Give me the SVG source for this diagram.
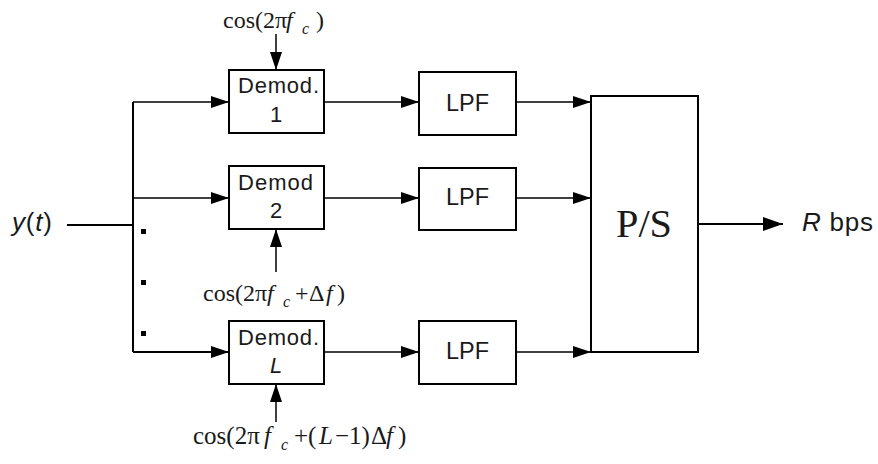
<svg xmlns="http://www.w3.org/2000/svg" width="878" height="464" viewBox="0 0 878 464">
<style>
.box{fill:#fff;stroke:#000;stroke-width:2}
.ln{fill:none;stroke:#000;stroke-width:1.5}
.thk{stroke-width:2}
.sans{font-family:"Liberation Sans",Arial,sans-serif;fill:#1a1a1a}
.serif{font-family:"Liberation Serif","Times New Roman",serif;fill:#1a1a1a}
.it{font-style:italic}
</style>
<defs>
<marker id="ah" markerWidth="18" markerHeight="12" refX="18" refY="6" orient="auto" markerUnits="userSpaceOnUse">
<path d="M0,0 L18,6 L0,12 Z" fill="#000"/>
</marker>
<marker id="ahb" markerWidth="20" markerHeight="14" refX="20" refY="7" orient="auto" markerUnits="userSpaceOnUse">
<path d="M0,0 L20,7 L0,14 Z" fill="#000"/>
</marker>
</defs>
<g id="connectors">
<path class="ln thk" d="M67,225 H133"/>
<path class="ln thk" d="M133,102 V352"/>
<path class="ln" d="M133,102 H229" marker-end="url(#ah)"/>
<path class="ln" d="M133,198 H229" marker-end="url(#ah)"/>
<path class="ln thk" d="M133,352 H229" marker-end="url(#ah)"/>
<path class="ln" d="M324,102 H419" marker-end="url(#ah)"/>
<path class="ln" d="M324,198 H419" marker-end="url(#ah)"/>
<path class="ln" d="M324,352 H419" marker-end="url(#ah)"/>
<path class="ln" d="M516,102 H591" marker-end="url(#ah)"/>
<path class="ln" d="M516,198 H591" marker-end="url(#ah)"/>
<path class="ln" d="M516,352 H591" marker-end="url(#ah)"/>
<path class="ln thk" d="M698,224 H783" marker-end="url(#ahb)"/>
<path class="ln" d="M276,34 V70" marker-end="url(#ah)"/>
<path class="ln" d="M276,272 V229" marker-end="url(#ah)"/>
<path class="ln" d="M276,422 V384" marker-end="url(#ah)"/>
<rect x="141" y="229" width="5" height="5" fill="#000"/>
<rect x="141" y="280" width="5" height="5" fill="#000"/>
<rect x="141" y="331" width="5" height="5" fill="#000"/>
</g>
<g id="input"><text x="12" y="231" class="sans" font-size="26" textLength="40" lengthAdjust="spacing"><tspan class="it">y</tspan>(<tspan class="it">t</tspan>)</text></g>
<g id="demod1"><rect class="box" x="229" y="70" width="95" height="63"/>
<text x="238" y="93" class="sans" font-size="22" textLength="81" lengthAdjust="spacing">Demod.</text>
<text x="276" y="122" class="sans" font-size="22" text-anchor="middle">1</text></g>
<g id="demod2"><rect class="box" x="229" y="166" width="95" height="63"/>
<text x="238" y="190" class="sans" font-size="22" textLength="75" lengthAdjust="spacing">Demod</text>
<text x="276" y="218" class="sans" font-size="22" text-anchor="middle">2</text></g>
<g id="demodL"><rect class="box" x="229" y="321" width="95" height="63"/>
<text x="238" y="345" class="sans" font-size="22" textLength="81" lengthAdjust="spacing">Demod.</text>
<text x="276" y="373" class="sans it" font-size="22" text-anchor="middle">L</text></g>
<g id="lpf1"><rect class="box" x="419" y="72" width="97" height="63"/><text x="446" y="111" class="sans" font-size="24" textLength="43" lengthAdjust="spacingAndGlyphs">LPF</text></g>
<g id="lpf2"><rect class="box" x="419" y="168" width="97" height="62"/><text x="446" y="205" class="sans" font-size="24" textLength="43" lengthAdjust="spacingAndGlyphs">LPF</text></g>
<g id="lpf3"><rect class="box" x="419" y="321" width="97" height="63"/><text x="446" y="359" class="sans" font-size="24" textLength="43" lengthAdjust="spacingAndGlyphs">LPF</text></g>
<g id="ps"><rect class="box" x="591" y="96" width="107" height="256"/><text x="616" y="237" class="serif" font-size="41" textLength="56" lengthAdjust="spacingAndGlyphs">P/S</text></g>
<g id="output"><text x="802" y="231" class="sans" font-size="26" textLength="71" lengthAdjust="spacing"><tspan class="it">R</tspan> bps</text></g>
<g id="osc1"><text y="28" class="serif" font-size="24"><tspan x="223">cos(2π</tspan><tspan x="286" class="it">f</tspan><tspan x="302" y="34" class="it" font-size="16">c</tspan><tspan x="316" y="28">)</tspan></text></g>
<g id="osc2"><text y="301" class="serif" font-size="24"><tspan x="203">cos(2π</tspan><tspan x="267" class="it">f</tspan><tspan x="283" y="307" class="it" font-size="16">c</tspan><tspan x="295" y="301">+</tspan><tspan x="309">Δ</tspan><tspan x="326" class="it">f</tspan><tspan x="337">)</tspan></text></g>
<g id="oscL"><text y="444" class="serif" font-size="25"><tspan x="193">cos(2π</tspan><tspan x="264" class="it">f</tspan><tspan x="281" y="450" class="it" font-size="16">c</tspan><tspan x="294" y="444">+(</tspan><tspan x="319" class="it">L</tspan><tspan x="335">−1)</tspan><tspan x="371">Δ</tspan><tspan x="386" class="it">f</tspan><tspan x="398">)</tspan></text></g>
</svg>
